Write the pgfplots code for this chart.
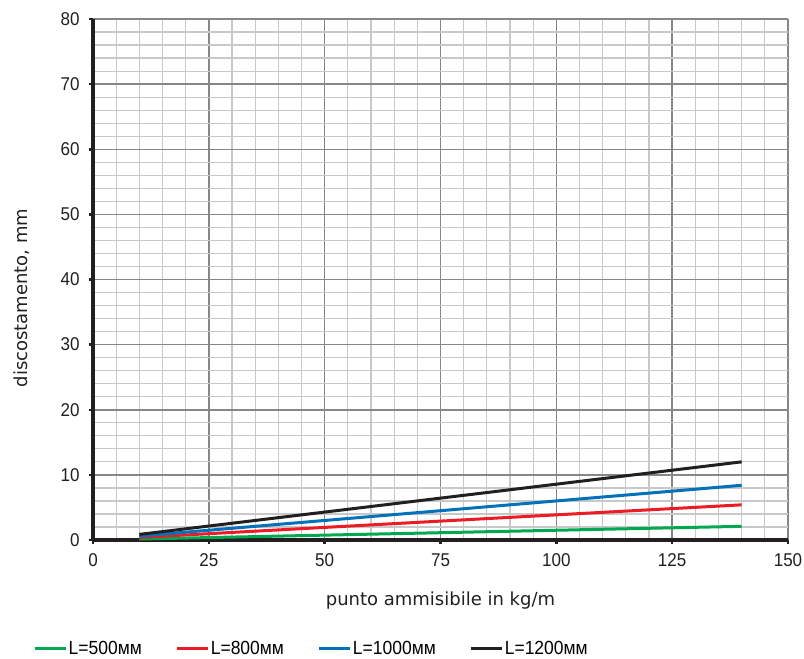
\documentclass[border=0pt]{standalone}
\usepackage{pgfplots}
\pgfplotsset{compat=1.18}
\usepackage{fontspec}
\setmainfont{Liberation Sans}
\newfontfamily\dejavu{DejaVu Sans}
\newfontfamily\legfont[FakeStretch=0.92]{Liberation Sans}
\definecolor{cgreen}{HTML}{00A84F}
\definecolor{cred}{HTML}{ED1C24}
\definecolor{cblue}{HTML}{0072BC}
\definecolor{cblack}{HTML}{231F20}
\definecolor{majgrid}{HTML}{878787}
\definecolor{mingrid}{HTML}{C8C8C8}
\begin{document}
\begin{tikzpicture}
\useasboundingbox (-93bp,-119bp) rectangle (711bp,540bp);
\begin{axis}[
  at={(0,0)}, anchor=south west,
  width=695bp, height=521bp, scale only axis,
  xmin=0, xmax=150, ymin=0, ymax=80,
  xtick={0,25,...,150}, ytick={0,10,...,80},
  minor x tick num=4, minor y tick num=4,
  grid=both,
  major grid style={color=majgrid, line width=1.5bp},
  minor grid style={color=mingrid, line width=1.2bp},
  axis x line*=bottom, axis y line*=left,
  axis line style={line width=4bp, color=cblack, -},
  tick align=outside,
  major tick length=4bp, minor tick length=0pt,
  tick style={line width=2.5bp, color=cblack},
  xtick pos=left, ytick pos=left,
  axis on top=false,
  /pgf/number format/assume math mode=true,
  ticklabel style={font=\legfont\fontsize{18.5bp}{20bp}\selectfont, color=cblack},
  xticklabel style={yshift=-6bp},
  yticklabel style={xshift=-6bp},
  xlabel={punto ammisibile in kg/m},
  ylabel={discostamento, mm},
  label style={font=\dejavu\fontsize{18bp}{20bp}\selectfont, color=cblack},
  xlabel style={at={(axis description cs:0.5,-0.117)}, anchor=center},
  ylabel style={at={(axis description cs:-0.102,0.4645)}, anchor=center},
  legend style={at={(axis description cs:-0.0863,-0.209)}, anchor=west,
    draw=none, fill=none, legend columns=4,
    font=\legfont\fontsize{19bp}{21bp}\selectfont,
    /tikz/every even column/.append style={column sep=32bp},
    inner sep=0pt, nodes={inner sep=1.5bp}},
  legend image code/.code={\draw[#1] (0bp,0bp) -- (31bp,0bp);},
  every axis plot/.append style={line width=3bp},
]
\addplot[cgreen] coordinates {(10,0.15) (75,1.12) (140,2.1)};
\addlegendentry{L=500мм}
\addplot[cred] coordinates {(10,0.39) (75,2.9) (140,5.4)};
\addlegendentry{L=800мм}
\addplot[cblue] coordinates {(10,0.6) (75,4.5) (140,8.4)};
\addlegendentry{L=1000мм}
\addplot[cblack] coordinates {(10,0.86) (75,6.43) (140,12.0)};
\addlegendentry{L=1200мм}
\end{axis}
\end{tikzpicture}
\end{document}
